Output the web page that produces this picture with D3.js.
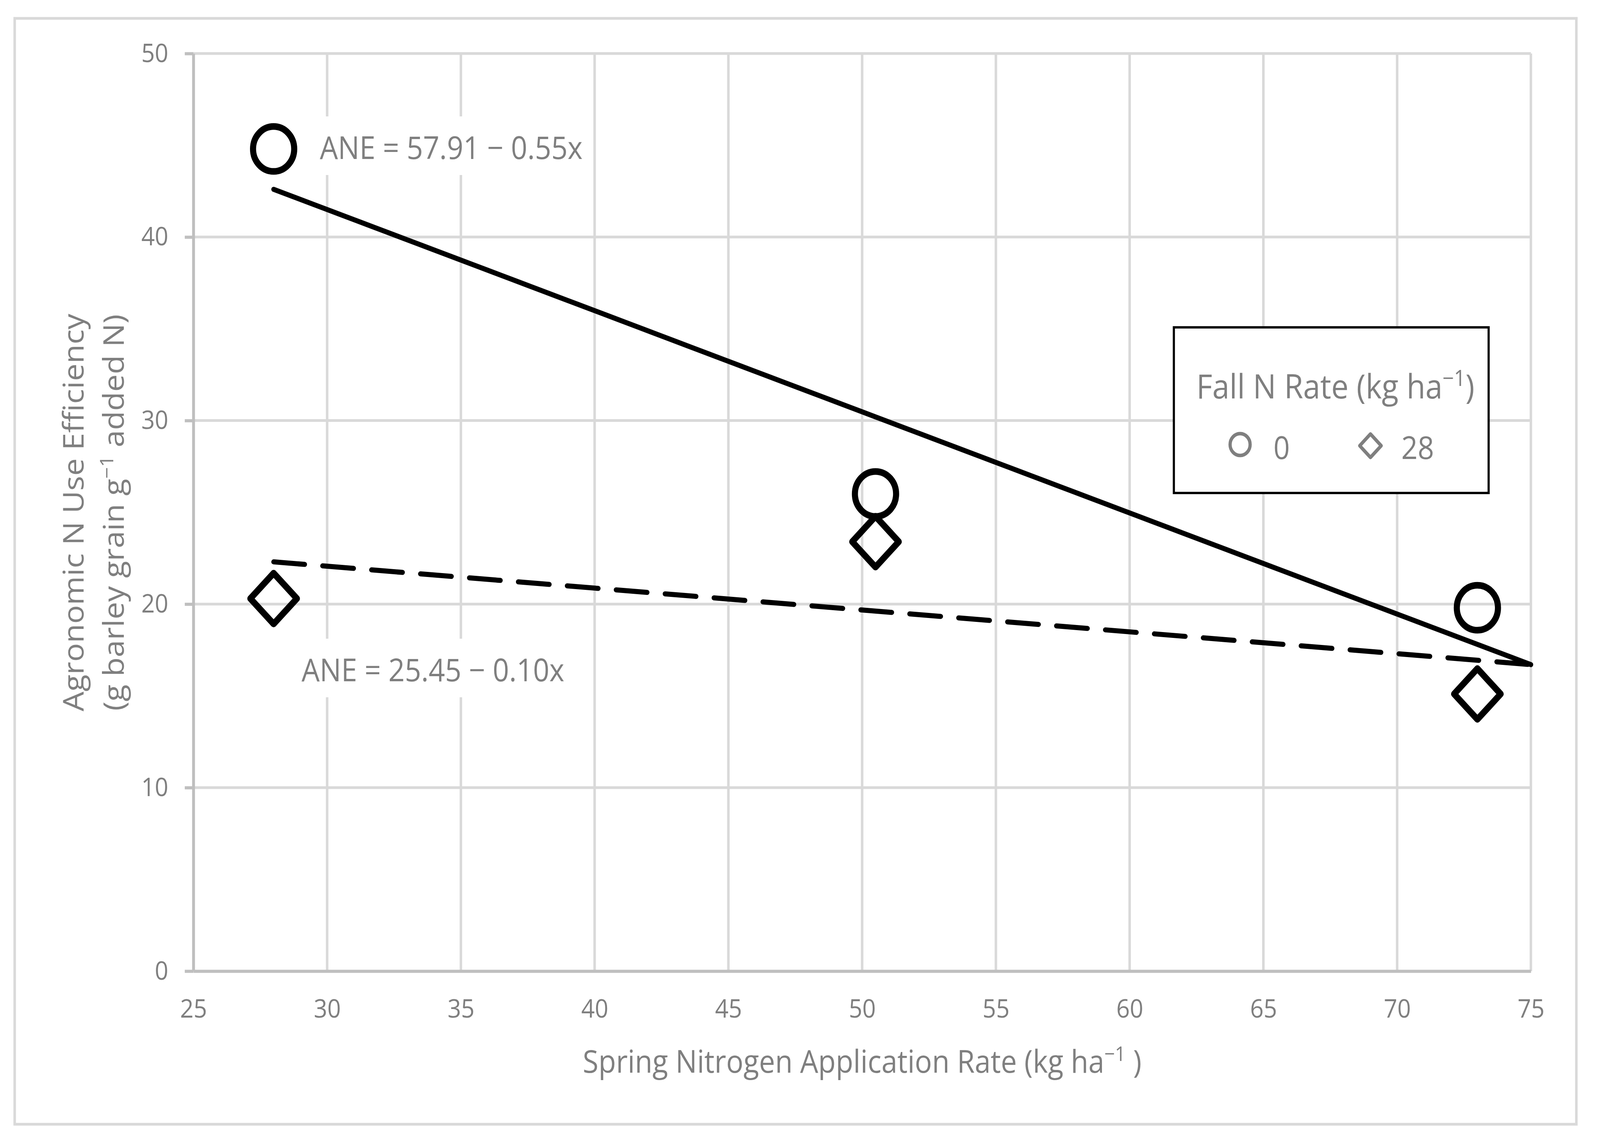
<!DOCTYPE html>
<html>
<head>
<meta charset="utf-8">
<script src="https://cdn.jsdelivr.net/npm/d3@7"></script>
<style>
  html, body { margin: 0; padding: 0; background: #fff; overflow: hidden; }
  svg { display: block; width: 100vw; height: 100vh; }
  text { font-family: "Open Sans", sans-serif; fill: #7f7f7f; }
</style>
</head>
<body>
<div id="chart"></div>
<script>
// Data
const springN = [28, 50.5, 73];
const aneFall0 = [44.8, 26.0, 19.8];
const aneFall28 = [20.3, 23.4, 15.1];

// trend line end points (x from 28 to the axis end)
const trendX = [28, 75];
const trendFall0 = [42.6, 16.7];
const trendFall28 = [22.3, 16.7];

const xTicks = [25, 30, 35, 40, 45, 50, 55, 60, 65, 70, 75];
const yTicks = [0, 10, 20, 30, 40, 50];

const eqFall0 = "ANE = 57.91 \u2212 0.55x";
const eqFall28 = "ANE = 25.45 \u2212 0.10x";
const legendTitle = ["Fall N Rate (kg ha", "\u22121", ")"];
const legendLabels = ["0", "28"];

const W = 4468, H = 2926;
const plot = { left: 540, right: 4275, top: 137, bottom: 2486 };

// viewBox so the drawing fills whatever the viewport really is
const svg = d3.select("#chart").append("svg")
  .attr("viewBox", `0 0 ${W} ${H}`)
  .attr("preserveAspectRatio", "none");

// outer chart border
svg.append("rect")
  .attr("x", 41).attr("y", 47)
  .attr("width", 4402 - 41).attr("height", 2878 - 47)
  .attr("fill", "#fff")
  .attr("stroke", "#d9d9d9")
  .attr("stroke-width", 7);

const x = d3.scaleLinear().domain([25, 75]).range([plot.left, plot.right]);
const y = d3.scaleLinear().domain([0, 50]).range([plot.bottom, plot.top]);

// Gridlines
svg.append("g")
  .selectAll("line")
  .data(xTicks.slice(1))
  .join("line")
  .attr("x1", d => x(d)).attr("x2", d => x(d))
  .attr("y1", plot.top).attr("y2", plot.bottom)
  .attr("stroke", "#d9d9d9")
  .attr("stroke-width", 7);

svg.append("g")
  .selectAll("line")
  .data(yTicks.slice(1))
  .join("line")
  .attr("x1", plot.left).attr("x2", plot.right)
  .attr("y1", d => y(d)).attr("y2", d => y(d))
  .attr("stroke", "#d9d9d9")
  .attr("stroke-width", 7);

// Axes
const xAxis = svg.append("g")
  .attr("transform", `translate(0,${plot.bottom})`)
  .call(d3.axisBottom(x).tickValues(xTicks).tickSize(0).tickSizeOuter(0).tickPadding(72));

const yAxis = svg.append("g")
  .attr("transform", `translate(${plot.left},0)`)
  .call(d3.axisLeft(y).tickValues(yTicks).tickSize(24).tickSizeOuter(0).tickPadding(46));

for (const axis of [xAxis, yAxis]) {
  axis.select(".domain").attr("stroke", "#bfbfbf").attr("stroke-width", 8);
  axis.selectAll(".tick line").attr("stroke", "#bfbfbf").attr("stroke-width", 8);
  axis.selectAll(".tick text")
    .attr("fill", "#7f7f7f")
    .style("font-family", "'Open Sans', sans-serif")
    .style("font-size", "66px");
}

// Axis titles
const xTitle = svg.append("text")
  .attr("x", (plot.left + plot.right) / 2)
  .attr("y", 2746)
  .attr("text-anchor", "middle")
  .style("font-size", "80px");
xTitle.append("tspan").text("Spring Nitrogen Application Rate (kg ha");
xTitle.append("tspan").attr("dy", -30).style("font-size", "52px").text("\u22121");
xTitle.append("tspan").attr("dy", 30).text(" )");

const yTitle = svg.append("g")
  .attr("text-anchor", "middle")
  .style("font-size", "80px");
yTitle.append("text")
  .attr("transform", "translate(233,1312) rotate(-90)")
  .text("Agronomic N Use Efficiency");
const yTitle2 = yTitle.append("text")
  .attr("transform", "translate(346,1312) rotate(-90)");
yTitle2.append("tspan").text("(g barley grain g");
yTitle2.append("tspan").attr("dy", -30).style("font-size", "52px").text("\u22121");
yTitle2.append("tspan").attr("dy", 30).text(" added N)");

// Equation labels with white boxes over the grid
function equationLabel(str, tx, ty) {
  const g = svg.append("g");
  const rect = g.append("rect").attr("fill", "#fff");
  const t = g.append("text")
    .attr("x", tx).attr("y", ty)
    .style("font-size", "80px")
    .text(str);
  const bb = t.node().getBBox();
  rect.attr("x", tx - 33).attr("y", ty - 109)
    .attr("width", bb.width + 58).attr("height", 150);
}
equationLabel(eqFall0, 893, 407);
equationLabel(eqFall28, 842, 1744);

// Trend lines
const line = d3.line().x(d => x(d[0])).y(d => y(d[1]));

svg.append("path")
  .datum(d3.zip(trendX, trendFall0))
  .attr("d", line)
  .attr("fill", "none")
  .attr("stroke", "#000")
  .attr("stroke-width", 13)
  .attr("stroke-linecap", "round");

svg.append("path")
  .datum(d3.zip(trendX, trendFall28))
  .attr("d", line)
  .attr("fill", "none")
  .attr("stroke", "#000")
  .attr("stroke-width", 13)
  .attr("stroke-linecap", "round")
  .attr("stroke-dasharray", "87 50");

// Markers
function diamondPath(cx, cy, r) {
  return `M${cx},${cy - r}L${cx + r},${cy}L${cx},${cy + r}L${cx - r},${cy}Z`;
}

svg.append("g")
  .selectAll("circle")
  .data(d3.zip(springN, aneFall0))
  .join("circle")
  .attr("cx", d => x(d[0]))
  .attr("cy", d => y(d[1]))
  .attr("r", 57.5)
  .attr("fill", "none")
  .attr("stroke", "#000")
  .attr("stroke-width", 17);

svg.append("g")
  .selectAll("path")
  .data(d3.zip(springN, aneFall28))
  .join("path")
  .attr("d", d => diamondPath(x(d[0]), y(d[1]), 65))
  .attr("fill", "none")
  .attr("stroke", "#000")
  .attr("stroke-width", 17)
  .attr("stroke-linejoin", "round");

// Legend
const legend = svg.append("g");
legend.append("rect")
  .attr("x", 3278).attr("y", 838)
  .attr("width", 4157 - 3278).attr("height", 1262 - 838)
  .attr("fill", "#fff")
  .attr("stroke", "#000")
  .attr("stroke-width", 6);

const lt = legend.append("text")
  .attr("x", 3341).attr("y", 1020)
  .style("font-size", "86px");
lt.append("tspan").text(legendTitle[0]);
lt.append("tspan").attr("dy", -32).style("font-size", "56px").text(legendTitle[1]);
lt.append("tspan").attr("dy", 32).text(legendTitle[2]);

legend.append("circle")
  .attr("cx", 3463).attr("cy", 1138).attr("r", 28)
  .attr("fill", "none")
  .attr("stroke", "#7f7f7f")
  .attr("stroke-width", 9);
legend.append("path")
  .attr("d", diamondPath(3827, 1141, 30))
  .attr("fill", "none")
  .attr("stroke", "#7f7f7f")
  .attr("stroke-width", 9)
  .attr("stroke-linejoin", "round");

legend.selectAll(".lbl")
  .data(legendLabels)
  .join("text")
  .attr("class", "lbl")
  .attr("x", (d, i) => i === 0 ? 3556 : 3913)
  .attr("y", 1175)
  .style("font-size", "80px")
  .text(d => d);
</script>
</body>
</html>
